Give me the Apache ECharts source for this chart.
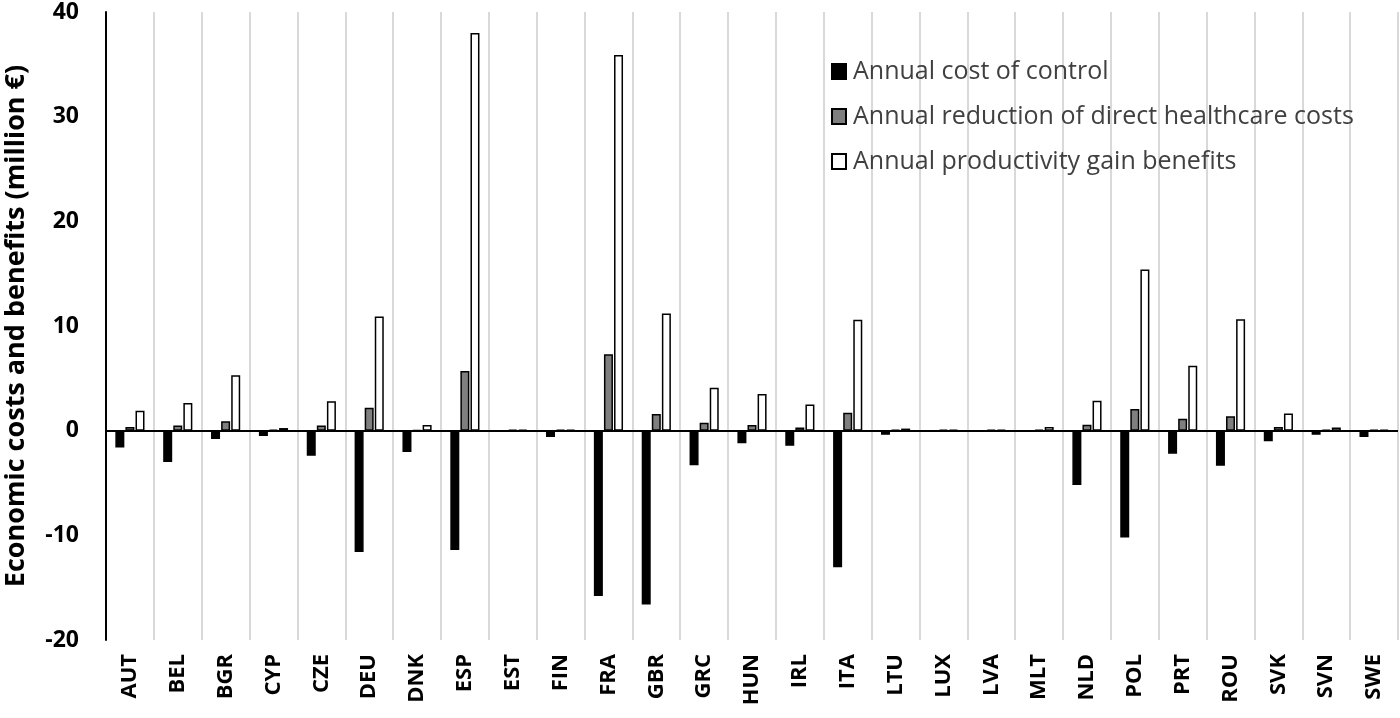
<!DOCTYPE html>
<html><head><meta charset="utf-8">
<script src="https://cdn.jsdelivr.net/npm/echarts@6/dist/echarts.min.js"></script>
<style>html,body{margin:0;padding:0;background:#fff}#c{width:1400px;height:718px}</style>
</head><body><div id="c"></div>
<script>
const categories = ['AUT','BEL','BGR','CYP','CZE','DEU','DNK','ESP','EST','FIN','FRA','GBR','GRC','HUN','IRL','ITA','LTU','LUX','LVA','MLT','NLD','POL','PRT','ROU','SVK','SVN','SWE'];
const costOfControl = [-1.6,-3.0,-0.8,-0.5,-2.4,-11.6,-2.05,-11.4,-0.05,-0.6,-15.8,-16.6,-3.3,-1.2,-1.45,-13.05,-0.4,-0.05,-0.1,-0.05,-5.2,-10.2,-2.2,-3.35,-1.0,-0.4,-0.6];
const healthcareReduction = [0.35,0.5,0.9,0.1,0.5,2.2,0.05,5.7,0.1,0.1,7.3,1.6,0.75,0.55,0.3,1.7,0.1,0.1,0.1,0.1,0.57,2.07,1.15,1.37,0.35,0.1,0.1];
const productivityGain = [1.9,2.65,5.3,0.25,2.8,10.9,0.55,38.0,0.1,0.1,35.9,11.2,4.1,3.5,2.5,10.6,0.2,0.1,0.1,0.35,2.87,15.4,6.2,10.65,1.65,0.3,0.1];
const yTicks = [-20,-10,0,10,20,30,40];
const seriesNames = ['Annual cost of control','Annual reduction of direct healthcare costs','Annual productivity gain benefits'];

const chart = echarts.init(document.getElementById('c'));
const font = '"Open Sans", "Liberation Sans", sans-serif';
const barCommon = {type:'bar', barWidth:9, barGap:'12%'};
chart.setOption({
  animation:false,
  grid:{left:106, right:2, top:12, bottom:78, outerBoundsMode:'none', containLabel:false},
  legend:{
    orient:'vertical', left:826, top:54, itemGap:20, itemWidth:14, itemHeight:15,
    icon:'rect',
    data:seriesNames,
    textStyle:{fontSize:25, color:'#404040', fontFamily:font, padding:[0,0,0,2]}
  },
  xAxis:{
    type:'category', data:categories,
    axisLine:{show:false, onZero:false},
    axisTick:{show:false},
    splitLine:{show:true, lineStyle:{color:'#d9d9d9', width:2}},
    axisLabel:{rotate:90, fontSize:22, fontWeight:'bold', color:'#000', fontFamily:font, margin:14, interval:0}
  },
  yAxis:{
    type:'value', min:-20, max:40, interval:10,
    name:'Economic costs and benefits (million \u20ac)', nameLocation:'middle', nameGap:76,
    nameTextStyle:{fontSize:27, fontWeight:'bold', color:'#000', fontFamily:font},
    axisLine:{show:true, lineStyle:{color:'#000', width:2}},
    axisTick:{show:false},
    splitLine:{show:false},
    axisLabel:{fontSize:23, fontWeight:'bold', color:'#000', fontFamily:font, margin:27,
      formatter:v => yTicks.includes(v) ? String(v) : ''}
  },
  series:[
    Object.assign({}, barCommon, {name:seriesNames[0], data:costOfControl, itemStyle:{color:'#000', borderColor:'#000', borderWidth:1.5},
      markLine:{silent:true, symbol:'none', label:{show:false}, lineStyle:{color:'#000', width:2, type:'solid'}, data:[{yAxis:0}], z:10}}),
    Object.assign({}, barCommon, {name:seriesNames[1], data:healthcareReduction, itemStyle:{color:'#7f7f7f', borderColor:'#000', borderWidth:1.5}}),
    Object.assign({}, barCommon, {name:seriesNames[2], data:productivityGain, itemStyle:{color:'#fff', borderColor:'#000', borderWidth:1.5}})
  ]
});
</script></body></html>
